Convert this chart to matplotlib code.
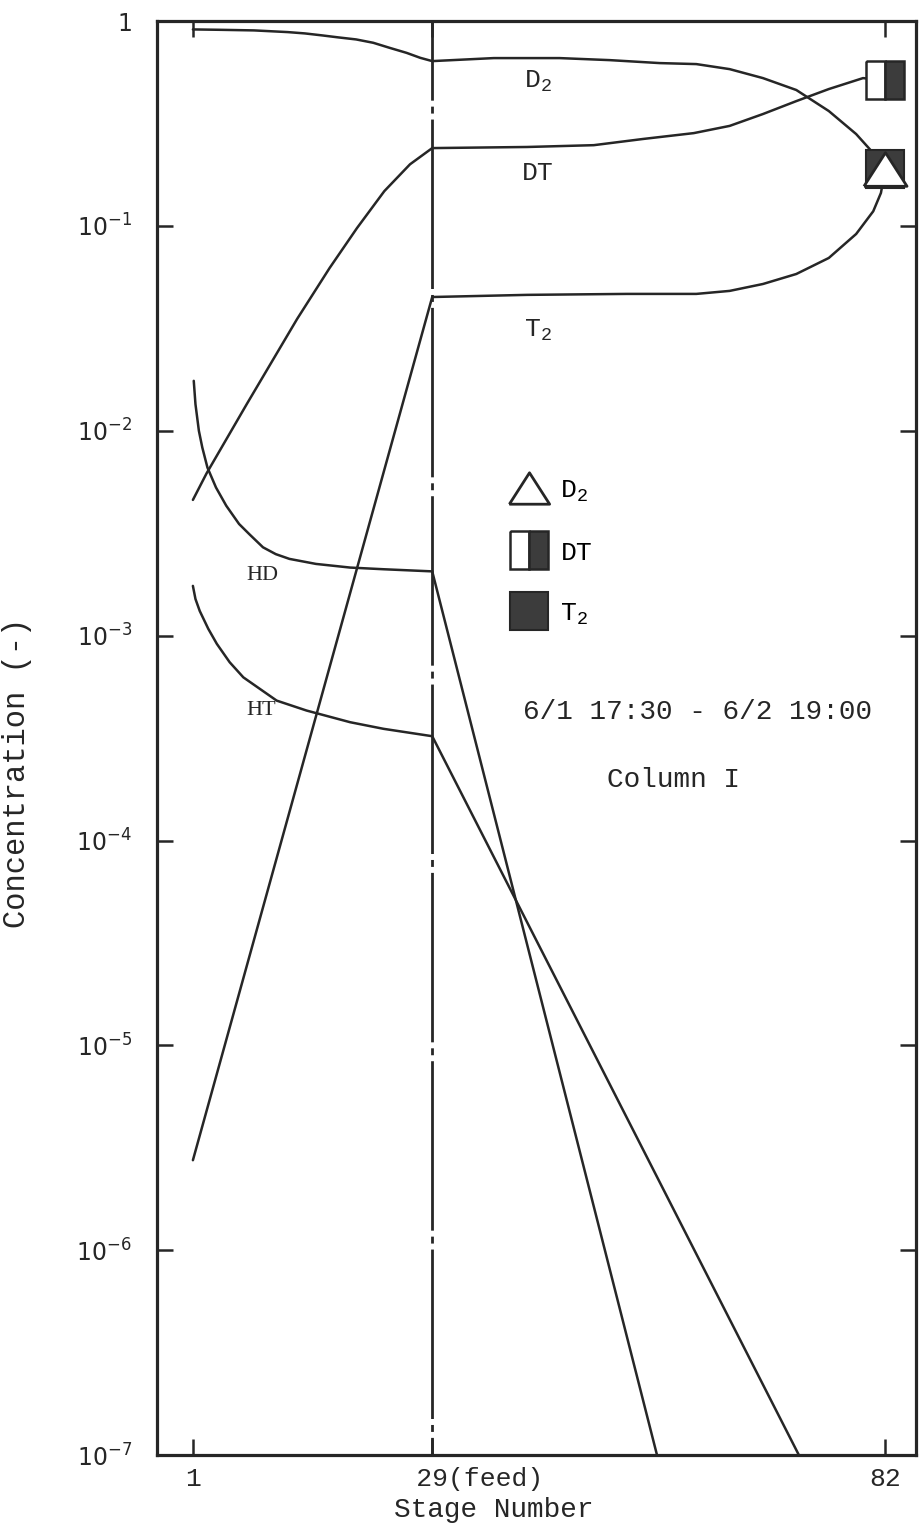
import matplotlib
matplotlib.use('Agg')
import matplotlib.pyplot as plt
from matplotlib.lines import Line2D
from matplotlib.ticker import NullLocator

# Concentration profiles along the column (stage number vs. mole fraction):
d2_stage = [1, 4.2, 8.15, 12.1, 14.1, 16.1, 18.0, 20.1, 22.1, 24.0, 26.0, 27.6,
            29, 36.2, 43.9, 49.8, 55.6, 59.9, 63.8, 67.7, 71.6, 75.4, 78.6,
            80.6, 82]
d2_conc = [0.911, 0.907, 0.901, 0.884, 0.871, 0.852, 0.833, 0.814, 0.784,
           0.741, 0.70, 0.662, 0.638, 0.66, 0.66, 0.645, 0.624, 0.617, 0.583,
           0.527, 0.461, 0.364, 0.281, 0.227, 0.19]

dt_stage = [1, 2.6, 7.3, 13.2, 17.0, 20.2, 23.4, 26.4, 29, 40.1, 47.9, 53.7,
            59.6, 63.8, 67.7, 71.6, 75.4, 79.4, 82]
dt_conc = [4.6e-3, 6.2e-3, 0.0135, 0.0352, 0.0624, 0.0977, 0.148, 0.2, 0.24,
           0.243, 0.248, 0.266, 0.284, 0.308, 0.352, 0.407, 0.466, 0.527, 0.515]

t2_stage = [1, 29, 40.1, 51.8, 59.9, 63.8, 67.7, 71.6, 75.4, 78.6, 80.6, 81.5, 82]
t2_conc = [2.75e-6, 0.045, 0.0461, 0.0466, 0.0466, 0.0482, 0.0521, 0.0583,
           0.0698, 0.0914, 0.118, 0.145, 0.19]

hd_stage = [1.1, 1.3, 1.7, 2.1, 2.7, 3.7, 4.9, 6.4, 7.6, 9.2, 10.7, 12.3, 15.4,
            19.4, 23.3, 29, 55.3]
hd_conc = [0.01754, 0.01349, 0.0100, 8.29e-3, 6.62e-3, 5.29e-3, 4.31e-3,
           3.51e-3, 3.13e-3, 2.70e-3, 2.50e-3, 2.37e-3, 2.24e-3, 2.15e-3,
           2.11e-3, 2.06e-3, 1e-7]

ht_stage = [1, 1.3, 1.8, 2.8, 3.8, 5.3, 6.9, 10.8, 14.3, 19.4, 23.3, 29, 71.9]
ht_conc = [1.75e-3, 1.51e-3, 1.32e-3, 1.08e-3, 9.12e-4, 7.42e-4, 6.26e-4,
           4.82e-4, 4.31e-4, 3.78e-4, 3.51e-4, 3.23e-4, 1e-7]

# Measured values at the top of the column:
meas_stage = [82]
d2_meas = [0.19]
dt_meas = [0.515]
t2_meas = [0.19]

feed_stage = 29
x_ticks = [1, 29, 82]
x_labels = ['1', '      29(feed)', '82']
y_ticks = [1e-7, 1e-6, 1e-5, 1e-4, 1e-3, 1e-2, 1e-1, 1]
y_labels = [r'$\mathsf{10^{-7}}$', r'$\mathsf{10^{-6}}$', r'$\mathsf{10^{-5}}$',
            r'$\mathsf{10^{-4}}$', r'$\mathsf{10^{-3}}$', r'$\mathsf{10^{-2}}$',
            r'$\mathsf{10^{-1}}$', '1']

# Fonts: typewriter text, sans tick numbers:
plt.rcParams['mathtext.fontset'] = 'custom'
plt.rcParams['mathtext.rm'] = 'Liberation Mono'
plt.rcParams['mathtext.sf'] = 'DejaVu Sans'
plt.rcParams['lines.scale_dashes'] = False

ink = '#262626'
fill = '#3c3c3c'
mono = 'Liberation Mono'
serif = 'Liberation Serif'

fig = plt.figure(figsize=(9.23, 15.31), dpi=100)
ax = fig.add_axes([0.1701, 0.0496, 0.8223, 0.9366])

ax.set_yscale('log')
ax.set_ylim(1e-7, 1)
ax.set_xlim(-3.2, 85.6)

# Profiles:
for stg, conc in [(d2_stage, d2_conc), (dt_stage, dt_conc), (t2_stage, t2_conc),
                  (hd_stage, hd_conc), (ht_stage, ht_conc)]:
    ax.plot(stg, conc, color=ink, lw=1.8, solid_capstyle='round',
            solid_joinstyle='round')

# Feed stage, dash-dot:
ax.plot([feed_stage, feed_stage], [1, 1e-7], color=ink, lw=2.0,
        linestyle=(65, (122, 4.3, 5, 4.3)))

# Markers for the measurements:
tri = [(-1, -0.78), (1, -0.78), (0, 0.78), (-1, -0.78)]
ax.plot(meas_stage, t2_meas, ls='none', marker='s', ms=28, mfc=fill, mec=ink,
        mew=1.5, zorder=5)
ax.plot(meas_stage, d2_meas, ls='none', marker=tri, ms=31, mfc='white', mec=ink,
        mew=2.0, zorder=6)
ax.plot(meas_stage, dt_meas, ls='none', marker='s', ms=28, fillstyle='left',
        mfc='white', markerfacecoloralt=fill, mec=ink, mew=1.8, zorder=6)

# Legend:
h_d2 = Line2D([], [], ls='none', marker=tri, ms=29, mfc='white', mec=ink, mew=2.0)
h_dt = Line2D([], [], ls='none', marker='s', ms=28, fillstyle='left', mfc='white',
              markerfacecoloralt=fill, mec=ink, mew=1.8)
h_t2 = Line2D([], [], ls='none', marker='s', ms=28, mfc=fill, mec=ink, mew=1.5)
ax.legend([h_d2, h_dt, h_t2], [r'$\mathrm{D_2}$', 'DT', r'$\mathrm{T_2}$'],
          loc='upper left', bbox_to_anchor=(0.469, 0.681), frameon=False,
          prop={'family': mono, 'size': 19}, handlelength=1.2,
          handletextpad=0.6, labelspacing=1.4, borderpad=0,
          borderaxespad=0, numpoints=1)

# Curve labels:
ax.text(41.4, 0.51, r'$\mathrm{D_2}$', ha='center', va='center', fontsize=19,
        color=ink)
ax.text(41.4, 0.181, 'DT', ha='center', va='center', fontsize=19,
        family=mono, color=ink)
ax.text(41.4, 0.031, r'$\mathrm{T_2}$', ha='center', va='center', fontsize=19,
        color=ink)
ax.text(9.1, 1.96e-3, 'HD', ha='center', va='center', fontsize=16,
        family=serif, color=ink)
ax.text(9.0, 4.31e-4, 'HT', ha='center', va='center', fontsize=16,
        family=serif, color=ink)

# Run info:
ax.text(0.482, 0.518, '6/1 17:30 - 6/2 19:00', transform=ax.transAxes,
        family=mono, fontsize=20, va='center', color=ink)
ax.text(0.593, 0.471, 'Column I', transform=ax.transAxes, family=mono,
        fontsize=20, va='center', color=ink)

# Axes, ticks and labels:
ax.set_xticks(x_ticks)
ax.set_xticklabels(x_labels, family=mono, fontsize=19)
ax.set_yticks(y_ticks)
ax.set_yticklabels(y_labels, fontsize=17)
ax.yaxis.set_minor_locator(NullLocator())
ax.tick_params(axis='both', direction='in', length=11.5, width=1.8,
               top=True, right=True, color=ink, labelcolor=ink)
ax.tick_params(axis='x', pad=8.6)
ax.tick_params(axis='y', pad=18)

for side in ['left', 'right', 'top', 'bottom']:
    ax.spines[side].set_linewidth(2.3)
    ax.spines[side].set_color(ink)

ax.set_xlabel('Stage Number', family=mono, fontsize=20, color=ink)
ax.xaxis.set_label_coords(0.444, -0.0293)
ax.set_ylabel('Concentration (-)', family=mono, fontsize=22, color=ink)
ax.yaxis.set_label_coords(-0.165, 0.476)

fig.savefig('out.png', dpi=100, facecolor='white')
